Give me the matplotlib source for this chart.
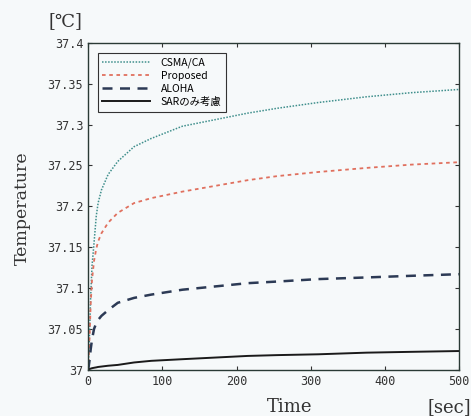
import matplotlib.pyplot as plt

# values
t = [0, 1, 2, 3.5, 5.3, 8, 11, 13.5, 18, 27, 40, 62, 85, 127, 171, 215, 255, 310, 375, 435, 500]
csma = [37.0, 37.02, 37.045, 37.09, 37.127, 37.155, 37.188, 37.204, 37.220, 37.239, 37.255,
        37.273, 37.283, 37.298, 37.306, 37.314, 37.320, 37.327, 37.334, 37.339, 37.343]
proposed = [37.0, 37.02, 37.04, 37.08, 37.110, 37.133, 37.148, 37.157, 37.167, 37.180, 37.192,
            37.204, 37.210, 37.218, 37.225, 37.232, 37.237, 37.242, 37.247, 37.251, 37.254]
aloha = [37.0, 37.005, 37.012, 37.025, 37.037, 37.050, 37.057, 37.061, 37.066, 37.073, 37.082,
         37.088, 37.092, 37.098, 37.102, 37.106, 37.108, 37.111, 37.113, 37.115, 37.117]
sar = [37.0, 37.0005, 37.001, 37.0015, 37.002, 37.0025, 37.003, 37.0035, 37.004, 37.005, 37.006,
       37.009, 37.011, 37.013, 37.015, 37.017, 37.018, 37.019, 37.021, 37.022, 37.023]
labels = ['CSMA/CA', 'Proposed', 'ALOHA', 'SARのみ考慮']
xticks = [0, 100, 200, 300, 400, 500]
yticks = [37, 37.05, 37.1, 37.15, 37.2, 37.25, 37.3, 37.35, 37.4]

bg = '#f6f9fa'
fig = plt.figure(figsize=(4.71, 4.16), dpi=100, facecolor=bg)
ax = fig.add_axes([0.187, 0.111, 0.788, 0.786], facecolor=bg)

ax.plot(t, csma, color='#3f8f8c', lw=1.1, linestyle=(0, (1, 1)), label=labels[0])
ax.plot(t, proposed, color='#e0705e', lw=1.3, linestyle=(0, (2, 2)), label=labels[1])
ax.plot(t, aloha, color='#2c3a55', lw=1.8, linestyle=(0, (4, 3)), label=labels[2])
ax.plot(t, sar, color='#1a1a1a', lw=1.4, label=labels[3])

ax.set_xlim(0, 500)
ax.set_ylim(37, 37.4)
ax.set_xticks(xticks)
ax.set_yticks(yticks)
ax.set_xticklabels([str(v) for v in xticks], family='DejaVu Sans Mono', fontsize=8.5, color='#333333')
ax.set_yticklabels(['%g' % v for v in yticks], family='DejaVu Sans Mono', fontsize=8.5, color='#333333')
ax.tick_params(direction='in', top=True, right=True, length=3, width=0.8, color='#333333')
for s in ax.spines.values():
    s.set_color('#2a3a35')
    s.set_linewidth(1.0)

leg = ax.legend(loc='upper left', bbox_to_anchor=(0.012, 0.985),
                prop={'family': ['Noto Sans CJK JP', 'DejaVu Sans'], 'size': 7.5},
                fancybox=False, edgecolor='#333333', framealpha=1, facecolor=bg,
                handlelength=4.6, borderpad=0.45, labelspacing=0.28, handletextpad=1.0)
leg.get_frame().set_linewidth(0.8)

fig.text(0.048, 0.5, 'Temperature', rotation=90, va='center', ha='center',
         family='DejaVu Serif', fontsize=12.5, color='#333333')
fig.text(0.138, 0.95, '[℃]', family='DejaVu Serif', fontsize=13, ha='center', va='center', color='#333333')
fig.text(0.615, 0.022, 'Time', family='DejaVu Serif', fontsize=13, ha='center', va='center', color='#333333')
fig.text(0.953, 0.022, '[sec]', family='DejaVu Serif', fontsize=13, ha='center', va='center', color='#333333')

fig.savefig('out.png', dpi=100, facecolor=bg)
